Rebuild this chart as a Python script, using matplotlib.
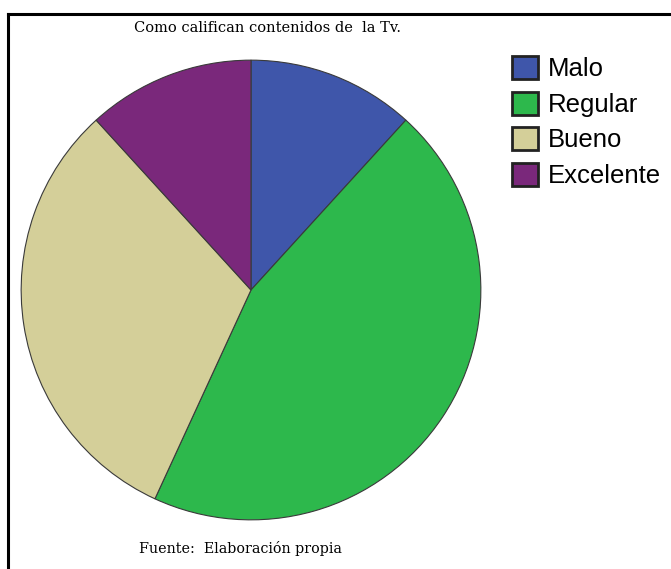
import matplotlib.pyplot as plt
from matplotlib.lines import Line2D

categorias = ['Malo', 'Regular', 'Bueno', 'Excelente']
frecuencias = [6, 23, 16, 6]
colores = ['#3F56AA', '#2DB84C', '#D4CF99', '#7A287B']

W, H = 671, 569
fig = plt.figure(figsize=(W / 100, H / 100), dpi=100)

# frame lines on the left and top edges
fig.add_artist(Line2D([7.5 / W, 7.5 / W], [0, 1 - 13.5 / H], color='black', lw=2.2))
fig.add_artist(Line2D([7.5 / W, 1], [1 - 13.5 / H, 1 - 13.5 / H], color='black', lw=2.2))

cx, cy, r = 251, 290, 231
ax = fig.add_axes([(cx - r) / W, 1 - (cy + r) / H, 2 * r / W, 2 * r / H])
wedges, _ = ax.pie(frecuencias, colors=colores, startangle=90, counterclock=False,
                   radius=1, wedgeprops=dict(edgecolor='#3a3a3a', linewidth=0.8))
ax.set_xlim(-1.005, 1.005)
ax.set_ylim(-1.005, 1.005)
ax.set_aspect('equal')
ax.axis('off')

fig.text(134 / W, 1 - 28 / H, 'Como califican contenidos de  la Tv.', ha='left', va='center',
         family='DejaVu Serif', fontsize=10.5)
fig.text(139 / W, 1 - 548 / H, 'Fuente:  Elaboración propia', ha='left', va='center',
         family='DejaVu Serif', fontsize=10.3)

leg = fig.legend(wedges, categorias, loc='upper left', bbox_to_anchor=(512 / W, 1 - 56 / H),
                 frameon=False, prop={'family': 'Liberation Sans', 'size': 18.5},
                 handlelength=1.0, handleheight=1.0, handletextpad=0.4, labelspacing=0.4,
                 borderpad=0, borderaxespad=0)
for h in leg.legend_handles:
    h.set_edgecolor('#222222')
    h.set_linewidth(2)

fig.savefig('out.png', dpi=100)
